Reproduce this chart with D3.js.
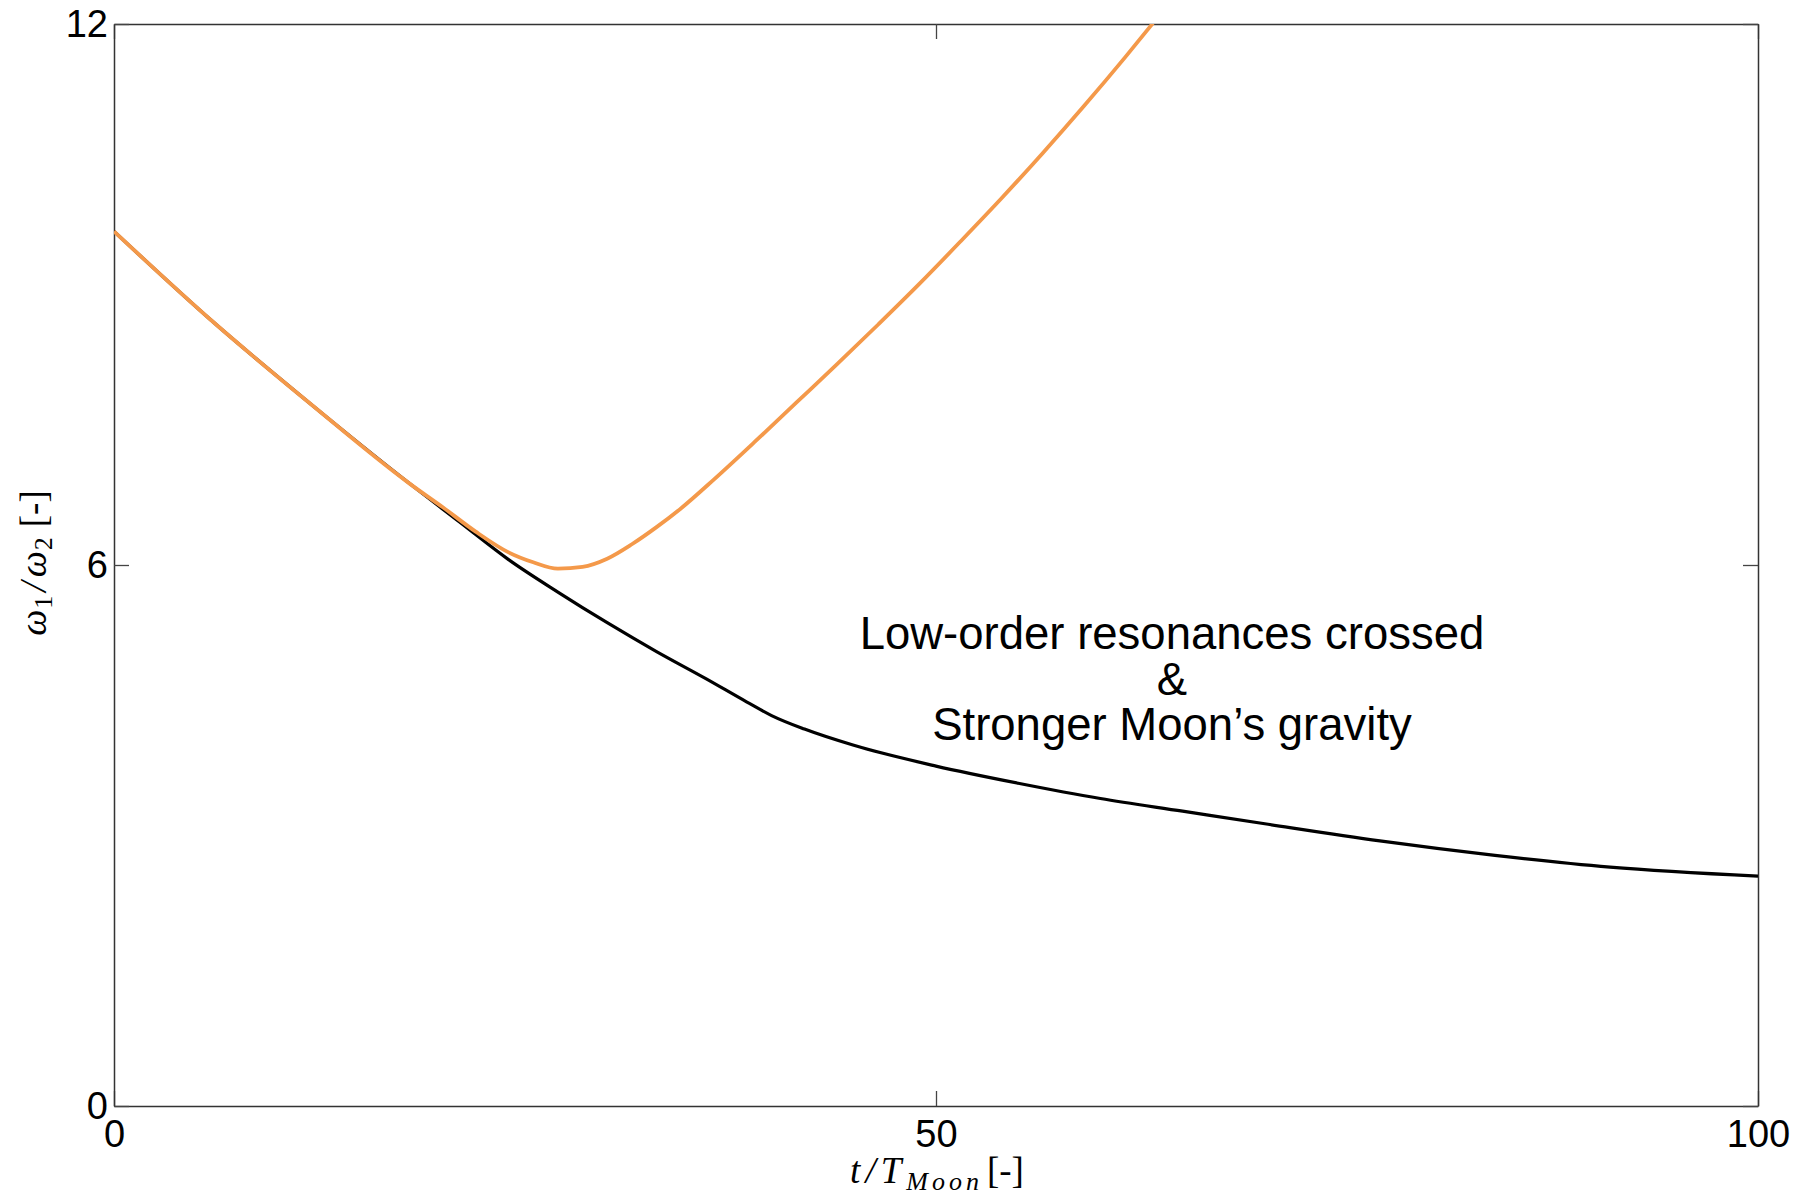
<!DOCTYPE html>
<html>
<head>
<meta charset="utf-8">
<script src="https://cdn.jsdelivr.net/npm/d3@7/dist/d3.min.js"></script>
<style>
  html, body { margin: 0; padding: 0; background: #fff; }
  svg { display: block; }
</style>
</head>
<body>
<svg id="chart" width="1809" height="1198"></svg>
<script>
// Frequency ratio evolution (time in lunar periods)
const timeBlack  = [0, 6, 12, 18, 21, 24, 27, 30, 33, 36, 38.5, 40, 42, 45, 50, 55, 60, 65, 70, 77, 84, 91, 100];
const ratioBlack = [9.70, 8.70, 7.78, 6.90, 6.48, 6.06, 5.70, 5.36, 5.04, 4.74, 4.48, 4.33, 4.18, 4.00, 3.77, 3.58, 3.41, 3.27, 3.13, 2.94, 2.78, 2.65, 2.55];

const timeOrange  = [0, 6, 12, 18, 20, 22, 24, 25.5, 27, 28.5, 30, 31.5, 33, 34.5, 36.5, 39, 41.5, 44, 46.5, 49, 51.5, 54, 56.5, 59, 61.5, 63.2];
const ratioOrange = [9.70, 8.70, 7.78, 6.90, 6.64, 6.37, 6.14, 6.03, 5.96, 5.98, 6.07, 6.23, 6.42, 6.63, 6.95, 7.37, 7.80, 8.23, 8.67, 9.12, 9.59, 10.07, 10.57, 11.09, 11.63, 12.01];

const xTicks = [0, 50, 100];
const yTicks = [0, 6, 12];
const annotationLines = ["Low-order resonances crossed", "&", "Stronger Moon\u2019s gravity"];

const svg = d3.select("#chart");
const margin = { left: 114, top: 24, right: 51, bottom: 92 };
const W = 1809 - margin.left - margin.right;
const H = 1198 - margin.top - margin.bottom;

const x = d3.scaleLinear().domain([0, 100]).range([0, W]);
const y = d3.scaleLinear().domain([0, 12]).range([H, 0]);

const g = svg.append("g").attr("transform", `translate(${margin.left},${margin.top})`);

g.append("clipPath").attr("id", "plotClip")
  .append("rect").attr("width", W).attr("height", H);

const tickFont = "'Liberation Sans', Arial, Helvetica, sans-serif";

function styleAxis(sel) {
  sel.selectAll("path.domain").attr("stroke", "#333").attr("stroke-width", 1.5);
  sel.selectAll(".tick line").attr("stroke", "#444").attr("stroke-width", 1.3);
  sel.selectAll(".tick text").attr("fill", "#000").style("font-family", tickFont).style("font-size", "38px");
}

g.append("g").attr("transform", `translate(0,${H})`)
  .call(d3.axisBottom(x).tickValues(xTicks).tickFormat(d3.format("d")).tickSize(-15).tickSizeOuter(0).tickPadding(14))
  .call(styleAxis);
g.append("g")
  .call(d3.axisTop(x).tickValues(xTicks).tickFormat("").tickSize(-15).tickSizeOuter(0))
  .call(styleAxis);
g.append("g")
  .call(d3.axisLeft(y).tickValues(yTicks).tickFormat(d3.format("d")).tickSize(-15).tickSizeOuter(0).tickPadding(6))
  .call(styleAxis);
g.append("g").attr("transform", `translate(${W},0)`)
  .call(d3.axisRight(y).tickValues(yTicks).tickFormat("").tickSize(-15).tickSizeOuter(0))
  .call(styleAxis);

const line = d3.line()
  .x(d => x(d[0]))
  .y(d => y(d[1]))
  .curve(d3.curveMonotoneX);

const plot = g.append("g").attr("clip-path", "url(#plotClip)");

plot.append("path")
  .datum(d3.zip(timeBlack, ratioBlack))
  .attr("fill", "none")
  .attr("stroke", "#000")
  .attr("stroke-width", 3.2)
  .attr("stroke-linejoin", "round")
  .attr("d", line);

plot.append("path")
  .datum(d3.zip(timeOrange, ratioOrange))
  .attr("fill", "none")
  .attr("stroke", "#f4994a")
  .attr("stroke-width", 3.8)
  .attr("stroke-linejoin", "round")
  .attr("d", line);

// Annotation
const ann = g.append("text")
  .attr("text-anchor", "middle")
  .style("font-family", tickFont)
  .style("font-size", "45.5px")
  .attr("fill", "#000");
annotationLines.forEach((t, i) => {
  ann.append("tspan")
    .attr("x", 1172 - margin.left)
    .attr("y", 649 - margin.top + i * 45.5)
    .text(t);
});

// Axis labels (math style)
const serif = "'Liberation Serif', 'Times New Roman', serif";

const xl = svg.append("text")
  .attr("x", 937).attr("y", 1183)
  .attr("text-anchor", "middle")
  .style("font-family", serif)
  .style("font-size", "37px")
  .attr("fill", "#000");
xl.append("tspan").style("font-style", "italic").style("letter-spacing", "5px").text("t/T");
xl.append("tspan").style("font-style", "italic").style("font-size", "26px").style("letter-spacing", "4px").attr("dy", 7).text("Moon");
xl.append("tspan").attr("dy", -7).attr("dx", 4).text("[-]");

const yl = svg.append("text")
  .attr("transform", "translate(46,563) rotate(-90)")
  .attr("text-anchor", "middle")
  .style("font-family", serif)
  .style("font-size", "37px")
  .attr("fill", "#000");
yl.append("tspan").style("font-style", "italic").text("\u03c9");
yl.append("tspan").style("font-size", "26px").attr("dy", 6).attr("dx", 1).text("1");
yl.append("tspan").style("font-style", "italic").attr("dy", -6).attr("dx", 4).text("/");
yl.append("tspan").style("font-style", "italic").attr("dx", 4).text("\u03c9");
yl.append("tspan").style("font-size", "26px").attr("dy", 6).attr("dx", 1).text("2");
yl.append("tspan").attr("dy", -6).attr("dx", 10).text("[-]");
</script>
</body>
</html>
